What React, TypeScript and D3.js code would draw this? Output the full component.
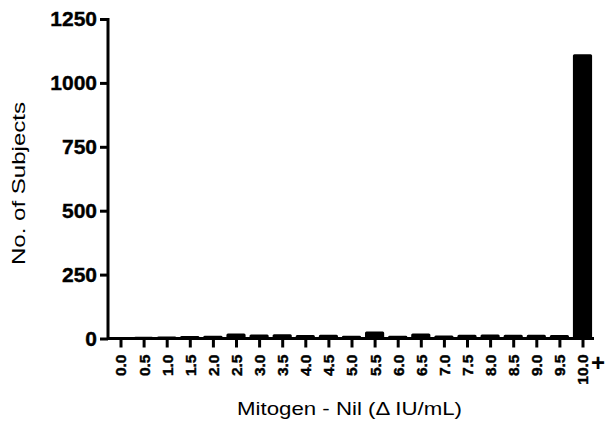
import React, { useEffect, useRef } from "react";
import * as d3 from "d3";

const categories = [
  "0.0", "0.5", "1.0", "1.5", "2.0", "2.5", "3.0", "3.5", "4.0", "4.5",
  "5.0", "5.5", "6.0", "6.5", "7.0", "7.5", "8.0", "8.5", "9.0", "9.5", "10.0",
];
const counts = [5, 7, 8, 10, 11, 20, 16, 17, 14, 15, 11, 27, 11, 20, 12, 15, 16, 15, 15, 14, 1112];
const yTicks = [0, 250, 500, 750, 1000, 1250];

const W = 609;
const H = 421;

const App = () => {
  const svgRef = useRef<SVGSVGElement>(null);

  useEffect(() => {
    const svg = d3.select(svgRef.current);
    svg.selectAll("*").remove();
    const font = "'Liberation Sans', Arial, sans-serif";

    const x = d3.scalePoint().domain(categories).range([120.5, 582.5]);
    const step = x.step();
    const barW = step * 0.83;
    const y = d3.scaleLinear().domain([0, 1250]).range([338.5, 19]);

    const data = categories.map((c, i) => ({ label: c, value: counts[i] }));

    // bars
    svg
      .selectAll("rect.bar")
      .data(data)
      .enter()
      .append("rect")
      .attr("class", "bar")
      .attr("x", (d) => (x(d.label) as number) - barW / 2)
      .attr("y", (d) => y(d.value))
      .attr("width", barW)
      .attr("height", (d) => y(0) - y(d.value))
      .attr("rx", 1.5)
      .attr("fill", "#000");

    // y axis
    const yAxis = svg
      .append("g")
      .attr("transform", `translate(108,0)`)
      .call(d3.axisLeft(y).tickValues(yTicks).tickSize(8).tickPadding(3).tickFormat(d3.format("d")));
    yAxis.select(".domain").attr("stroke-width", 3).attr("d", `M0,${y(1250) - 1}V${y(0)}`);
    yAxis.selectAll(".tick line").attr("stroke-width", 3);
    yAxis
      .selectAll(".tick text")
      .attr("font-family", font)
      .attr("font-weight", "bold")
      .attr("font-size", 21)
      .attr("fill", "#000")
      .attr("stroke", "#000")
      .attr("stroke-width", 0.4);

    // x axis
    const xAxis = svg
      .append("g")
      .attr("transform", `translate(0,${y(0)})`)
      .call(d3.axisBottom(x).tickSize(9).tickPadding(4));
    xAxis.select(".domain").attr("stroke-width", 3).attr("d", `M108,0H594`);
    xAxis.selectAll(".tick line").attr("stroke-width", 3);
    xAxis
      .selectAll(".tick text")
      .attr("font-family", font)
      .attr("font-weight", "bold")
      .attr("font-size", 15.5)
      .attr("fill", "#000")
      .attr("stroke", "#000")
      .attr("stroke-width", 0.4)
      .attr("transform", "rotate(-90)")
      .attr("text-anchor", "end")
      .attr("x", -16)
      .attr("y", 0)
      .attr("dy", "0.35em");

    svg
      .append("text")
      .attr("x", 598)
      .attr("y", 371)
      .attr("text-anchor", "middle")
      .attr("font-family", font)
      .attr("font-weight", "bold")
      .attr("font-size", 24)
      .text("+");

    // titles
    svg
      .append("text")
      .attr("transform", `translate(25,183.5) rotate(-90)`)
      .attr("text-anchor", "middle")
      .attr("font-family", font)
      .attr("font-size", 18.5)
      .attr("textLength", 163)
      .attr("lengthAdjust", "spacingAndGlyphs")
      .text("No. of Subjects");

    svg
      .append("text")
      .attr("x", 349.5)
      .attr("y", 415)
      .attr("text-anchor", "middle")
      .attr("font-family", font)
      .attr("font-size", 18.5)
      .attr("textLength", 225)
      .attr("lengthAdjust", "spacingAndGlyphs")
      .text("Mitogen - Nil (\u0394 IU/mL)");
  }, []);

  return (
    <svg
      ref={svgRef}
      width={W}
      height={H}
      style={{ position: "absolute", left: 0, top: 0, background: "#fff" }}
    ></svg>
  );
};

export default App;
